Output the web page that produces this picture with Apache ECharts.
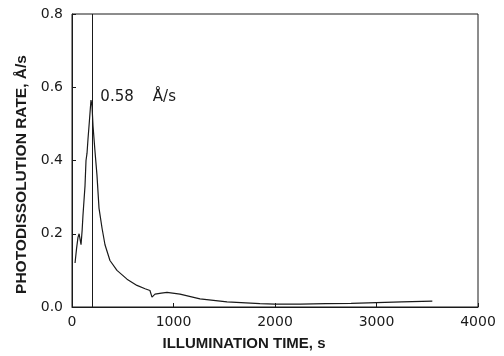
<!DOCTYPE html>
<html>
<head>
<meta charset="utf-8">
<script src="https://cdn.jsdelivr.net/npm/echarts@6/dist/echarts.min.js"></script>
<style>
  html, body { margin: 0; padding: 0; background: #fff; }
  #chart { width: 504px; height: 356px; }
</style>
</head>
<body>
<div id="chart"></div>
<script>
// illumination time (s) and photodissolution rate (A/s)
var timeS = [30, 45, 59, 70, 79, 89, 100, 108, 118, 128, 138, 148, 158, 172, 187, 197,
  207, 225, 246, 266, 296, 325, 374, 443, 542, 640, 720, 768, 788, 818, 880, 936,
  1064, 1261, 1527, 1852, 2000, 2250, 2500, 2750, 3000, 3250, 3550];
var rate = [0.12, 0.16, 0.19, 0.2, 0.2, 0.17, 0.21, 0.25, 0.29, 0.33, 0.4, 0.42, 0.46, 0.51, 0.565, 0.55,
  0.495, 0.43, 0.36, 0.27, 0.215, 0.17, 0.127, 0.10, 0.076, 0.059, 0.05, 0.045, 0.027, 0.035, 0.038, 0.04,
  0.035, 0.022, 0.014, 0.009, 0.008, 0.008, 0.009, 0.01, 0.012, 0.014, 0.016];
var xTicks = ['0', '1000', '2000', '3000', '4000'];
var yTicks = ['0.0', '0.2', '0.4', '0.6', '0.8'];
var markerTime = 200;
var peakLabel = '0.58    Å/s';

var ink = '#1a1a1a';
var tickFont = 'DejaVu Sans, sans-serif';
var nameFont = 'Liberation Sans, Arial, sans-serif';

var chart = echarts.init(document.getElementById('chart'));
chart.setOption({
  animation: false,
  grid: { left: 72, right: 26, top: 14, bottom: 46, show: true, borderColor: ink, borderWidth: 1 },
  xAxis: {
    type: 'value', min: 0, max: 4000, interval: 1000,
    name: 'ILLUMINATION TIME, s', nameLocation: 'middle', nameGap: 29,
    nameTextStyle: { color: ink, fontFamily: nameFont, fontWeight: 'bold', fontSize: 15, padding: [0, 62, 0, 0] },
    axisLine: { lineStyle: { color: ink } },
    axisTick: { inside: true, length: 4, lineStyle: { color: ink } },
    axisLabel: {
      color: ink, fontFamily: tickFont, fontSize: 14, margin: 8,
      formatter: function (v) { return xTicks[Math.round(v / 1000)]; }
    },
    splitLine: { show: false }
  },
  yAxis: {
    type: 'value', min: 0, max: 0.8, interval: 0.2,
    name: 'PHOTODISSOLUTION RATE, Å/s', nameLocation: 'middle', nameGap: 40, nameRotate: 90,
    nameTextStyle: { color: ink, fontFamily: nameFont, fontWeight: 'bold', fontSize: 15.5, padding: [0, 28, 0, 0] },
    axisLine: { lineStyle: { color: ink } },
    axisTick: { inside: true, length: 4, lineStyle: { color: ink } },
    axisLabel: {
      color: ink, fontFamily: tickFont, fontSize: 14, margin: 9,
      formatter: function (v) { return yTicks[Math.round(v / 0.2)]; }
    },
    splitLine: { show: false }
  },
  series: [{
    type: 'line',
    data: timeS.map(function (t, i) { return [t, rate[i]]; }),
    showSymbol: false,
    lineStyle: { color: ink, width: 1.2 },
    markLine: {
      silent: true, symbol: 'none', label: { show: false },
      lineStyle: { color: ink, width: 1, type: 'solid' },
      data: [{ xAxis: markerTime }]
    },
    markPoint: {
      symbol: 'circle', symbolSize: 0,
      label: {
        show: true, position: 'right', distance: 4, formatter: peakLabel,
        color: ink, fontFamily: tickFont, fontSize: 15
      },
      data: [{ coord: [240, 0.573] }]
    }
  }]
});
</script>
</body>
</html>
